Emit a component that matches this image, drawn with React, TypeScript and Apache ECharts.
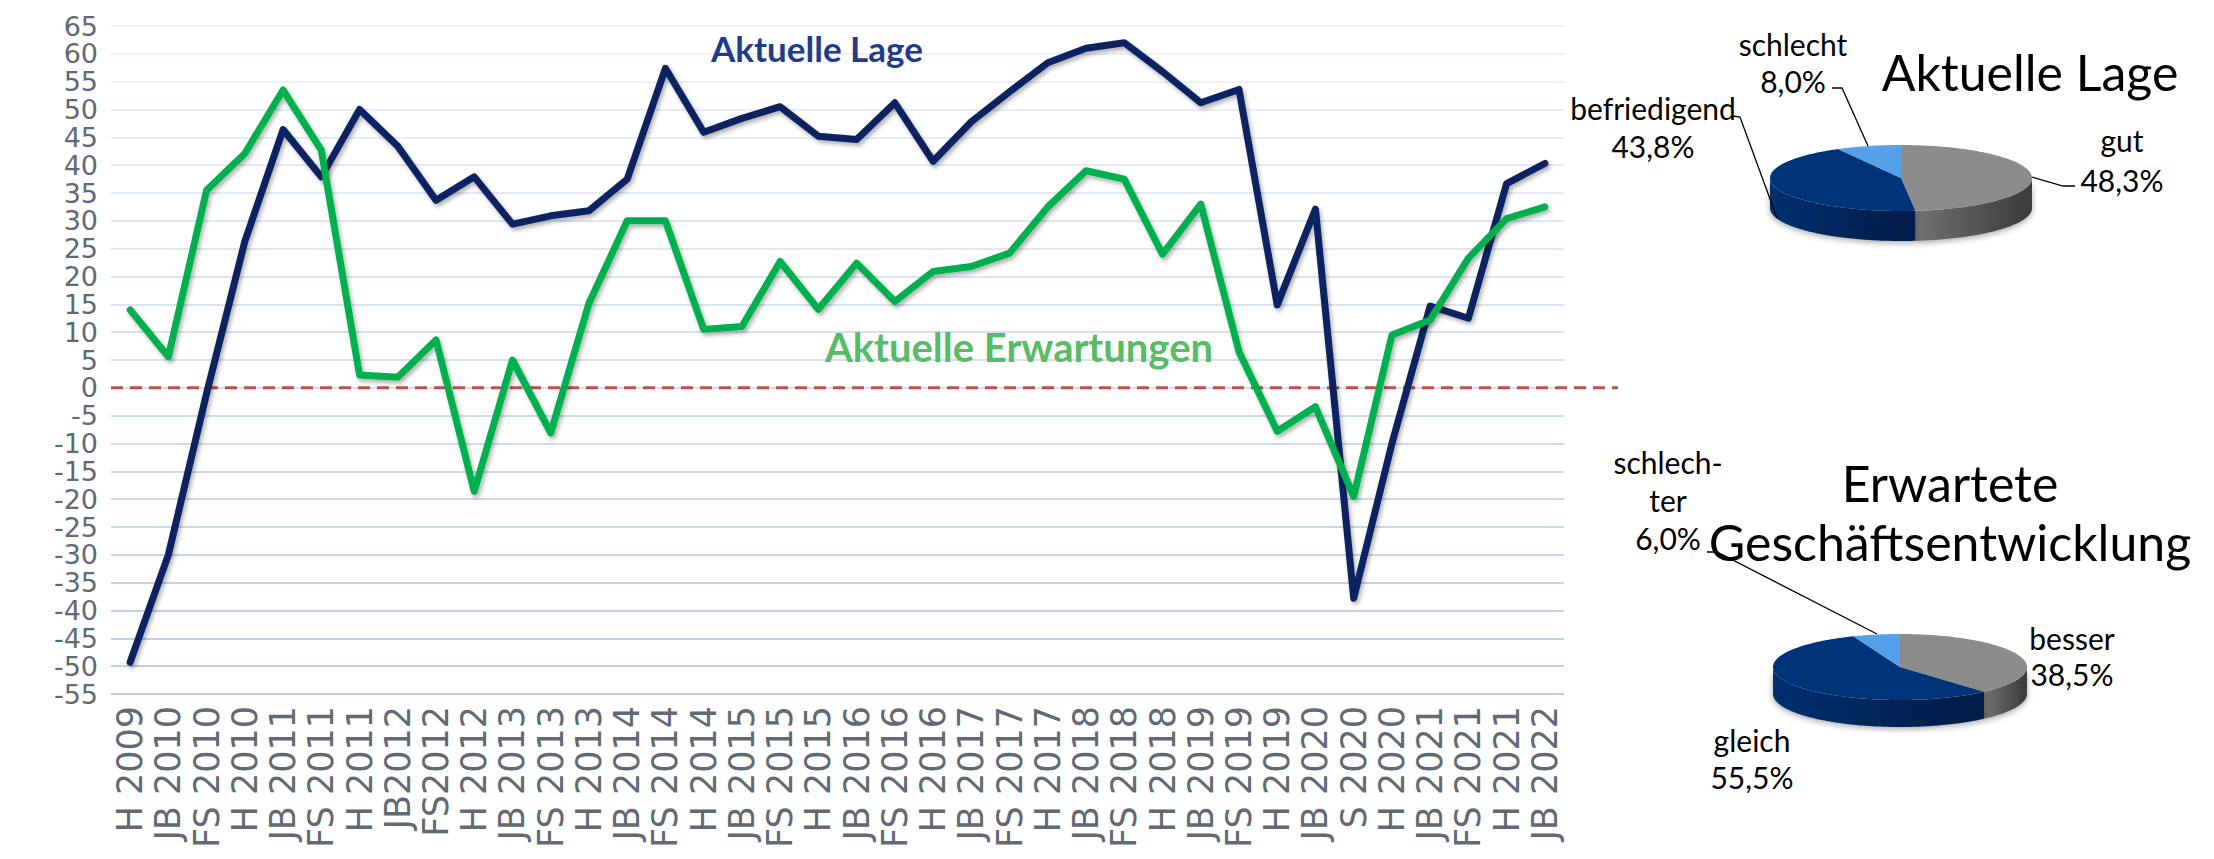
import React, { useEffect, useRef } from 'react';
import * as echarts from 'echarts';

// ---- data ----
const categories = ['H 2009', 'JB 2010', 'FS 2010', 'H 2010', 'JB 2011', 'FS 2011', 'H 2011', 'JB2012', 'FS2012', 'H 2012', 'JB 2013', 'FS 2013', 'H 2013', 'JB 2014', 'FS 2014', 'H 2014', 'JB 2015', 'FS 2015', 'H 2015', 'JB 2016', 'FS 2016', 'H 2016', 'JB 2017', 'FS 2017', 'H 2017', 'JB 2018', 'FS 2018', 'H 2018', 'JB 2019', 'FS 2019', 'H 2019', 'JB 2020', 'S 2020', 'H 2020', 'JB 2021', 'FS 2021', 'H 2021', 'JB 2022'];

const aktuelleLage = [-49.3, -30, -1, 26.3, 46.4, 37.9, 50, 43.4, 33.7, 37.9, 29.4, 30.9, 31.8, 37.5, 57.4, 45.9, 48.4, 50.5, 45.2, 44.6, 51.2, 40.7, 47.8, 53.2, 58.4, 61, 62, 56.8, 51.2, 53.6, 14.9, 32.1, -37.8, -10, 14.7, 12.5, 36.7, 40.3];

const aktuelleErwartungen = [14, 5.6, 35.5, 42.1, 53.5, 42.7, 2.3, 1.9, 8.6, -18.6, 5, -8.1, 15.2, 30, 30, 10.5, 11, 22.7, 14.1, 22.4, 15.5, 20.9, 21.8, 24.2, 32.5, 39, 37.5, 24, 33, 6.5, -7.8, -3.4, -19.5, 9.5, 12.2, 23.3, 30.4, 32.5];

const yMin = -55;
const yMax = 65;
const yStep = 5;

const lageNames = ['gut', 'befriedigend', 'schlecht'];
const lageValues = [48.3, 43.8, 8.0];

const erwNames = ['besser', 'gleich', 'schlech-\nter'];
const erwValues = [38.5, 55.5, 6.0];

const seriesNames = ['Aktuelle Lage', 'Aktuelle Erwartungen'];

// ---- styles ----
const NAVY = '#0c2260';
const GREEN = '#00b050';
const AXIS_TXT = '#5f6a74';
const AXIS_FONT = 'DejaVu Sans';
const LABEL_FONT = 'Lato';

const sliceColors = [
  { top: '#8c8c8c', sideL: '#727272', sideR: '#3a3a3a' },
  { top: '#003478', sideL: '#00306f', sideR: '#001a45' },
  { top: '#55a0e8', sideL: '#3c7fc4', sideR: '#2c64a0' },
];

const fmt = (v: number) => v.toFixed(1).replace('.', ',') + '%';

function pieRenderer(values: number[], cx: number, cy: number, rx: number, ry: number, depth: number) {
  const total = values.reduce((a, b) => a + b, 0);
  return (params: any) => {
    const i = params.dataIndex;
    let start = 0;
    for (let k = 0; k < i; k++) start += values[k];
    const a0 = (start / total) * Math.PI * 2;
    const a1 = ((start + values[i]) / total) * Math.PI * 2;
    const pt = (t: number, dy = 0) => [cx + rx * Math.sin(t), cy - ry * Math.cos(t) + dy];
    const c = sliceColors[i];
    const children: any[] = [];
    const s0 = Math.max(a0, Math.PI / 2);
    const s1 = Math.min(a1, Math.PI * 1.5);
    if (s1 > s0) {
      const pts: number[][] = [];
      const n = Math.max(2, Math.ceil((s1 - s0) / 0.02));
      for (let k = 0; k <= n; k++) pts.push(pt(s0 + ((s1 - s0) * k) / n));
      for (let k = n; k >= 0; k--) pts.push(pt(s0 + ((s1 - s0) * k) / n, depth));
      children.push({
        type: 'polygon',
        shape: { points: pts },
        style: {
          fill: new echarts.graphic.LinearGradient(0, 0, 1, 0, [
            { offset: 0, color: c.sideL },
            { offset: 1, color: c.sideR },
          ]),
          shadowBlur: 6,
          shadowColor: 'rgba(0,0,0,0.35)',
          shadowOffsetY: 2,
        },
      });
    }
    const tp: number[][] = [[cx, cy]];
    const n2 = Math.max(2, Math.ceil((a1 - a0) / 0.02));
    for (let k = 0; k <= n2; k++) tp.push(pt(a0 + ((a1 - a0) * k) / n2));
    children.push({ type: 'polygon', shape: { points: tp }, style: { fill: c.top } });
    return { type: 'group', children };
  };
}

// gridline colours from bottom (darker) to top (lighter)
const nLines = (yMax - yMin) / yStep + 1;
const gridColors: string[] = [];
for (let k = 0; k < nLines; k++) {
  const t = k / (nLines - 1);
  const r = Math.round(0xbc + (0xee - 0xbc) * t);
  const g = Math.round(0xcd + (0xf3 - 0xcd) * t);
  const b = Math.round(0xe6 + (0xfa - 0xe6) * t);
  gridColors.push(`rgb(${r},${g},${b})`);
}

const GRID = { left: 111, top: 26, width: 1453, height: 668 };

export default function App() {
  const ref = useRef<HTMLDivElement>(null);
  useEffect(() => {
    document.body.style.margin = '0';
    if (!ref.current) return;
    const chart = echarts.init(ref.current, undefined, { renderer: 'svg' });

    const txt = (text: string, x: number, y: number, size: number, lineHeight: number, extra: any = {}) => ({
      type: 'text',
      x,
      y,
      style: {
        text,
        font: `${extra.weight || 'normal'} ${size}px ${extra.family || LABEL_FONT}`,
        fill: extra.color || '#000',
        align: extra.align || 'center',
        verticalAlign: 'middle',
        lineHeight,
      },
      z: 10,
    });
    const leader = (points: number[][]) => ({
      type: 'polyline',
      shape: { points },
      style: { stroke: '#000', lineWidth: 1.3, fill: 'none' },
      z: 10,
    });

    const lineStyle = (color: string) => ({
      color,
      width: 7,
      cap: 'round',
      join: 'round',
      shadowColor: 'rgba(0,0,0,0.3)',
      shadowBlur: 4,
      shadowOffsetX: 2,
      shadowOffsetY: 3,
    });

    const option: any = {
      animation: false,
      backgroundColor: '#fff',
      grid: { ...GRID, containLabel: false },
      xAxis: {
        type: 'category',
        data: categories,
        boundaryGap: true,
        axisLine: { show: false },
        axisTick: { show: false },
        axisLabel: {
          interval: 0,
          rotate: 90,
          margin: 12,
          color: AXIS_TXT,
          fontFamily: AXIS_FONT,
          fontSize: 35,
          lineHeight: 30,
        },
        splitLine: { show: false },
      },
      yAxis: {
        type: 'value',
        min: yMin,
        max: yMax,
        interval: yStep,
        axisLine: { show: false },
        axisTick: { show: false },
        axisLabel: { show: false },
        splitLine: { show: true, lineStyle: { color: gridColors, width: 2 } },
      },
      series: [
        {
          name: seriesNames[0],
          type: 'line',
          data: aktuelleLage,
          symbol: 'none',
          z: 3,
          lineStyle: lineStyle(NAVY),
        },
        {
          name: seriesNames[1],
          type: 'line',
          data: aktuelleErwartungen,
          symbol: 'none',
          z: 4,
          lineStyle: lineStyle(GREEN),
        },
        {
          type: 'custom',
          coordinateSystem: 'none',
          data: lageValues.map((v) => [v]),
          renderItem: pieRenderer(lageValues, 1901, 178, 131, 33, 30),
          silent: true,
        },
        {
          type: 'custom',
          coordinateSystem: 'none',
          data: erwValues.map((v) => [v]),
          renderItem: pieRenderer(erwValues, 1900, 667, 127, 33, 27),
          silent: true,
        },
      ],
      graphic: [
        txt(seriesNames[0], 817, 48, 35, 40, { weight: 'bold', color: '#1f3c8c' }),
        txt(seriesNames[1], 1019, 347, 40, 44, { weight: 'bold', color: '#58bb66' }),
        txt('Aktuelle Lage', 2030, 72, 50, 56),
        txt('Erwartete\nGeschäftsentwicklung', 1950, 512, 50, 59),
        // pie 1 labels
        txt(`${lageNames[2]}\n${fmt(lageValues[2])}`, 1793, 62, 30, 37),
        txt(`${lageNames[1]}\n${fmt(lageValues[1])}`, 1653, 127, 30, 38),
        txt(`${lageNames[0]}\n${fmt(lageValues[0])}`, 2122, 160, 30, 40),
        leader([[1832, 88], [1842, 88], [1868, 146]]),
        leader([[1733, 116], [1740, 117], [1777, 218]]),
        leader([[2032, 177], [2063, 186], [2075, 186]]),
        // pie 2 labels
        txt(`${erwNames[2]}\n${fmt(erwValues[2])}`, 1668, 500, 30, 38),
        txt(`${erwNames[0]}\n${fmt(erwValues[0])}`, 2072, 656, 30, 36),
        txt(`${erwNames[1]}\n${fmt(erwValues[1])}`, 1752, 758, 30, 37),
        leader([[1707, 552], [1717, 552], [1877, 634]]),
      ],
    };
    chart.setOption(option);

    // y-axis tick labels placed through the axis scale
    const yLabels: any[] = [];
    for (let v = yMin; v <= yMax; v += yStep) {
      const py = chart.convertToPixel({ yAxisIndex: 0 }, v) as number;
      yLabels.push(txt(String(v), GRID.left - 13, py, 27, 27, { family: AXIS_FONT, color: AXIS_TXT, align: 'right' }));
    }
    const y0 = chart.convertToPixel({ yAxisIndex: 0 }, 0) as number;
    chart.setOption({
      graphic: [
        ...option.graphic,
        ...yLabels,
        {
          type: 'line',
          shape: { x1: GRID.left, y1: y0, x2: 1618, y2: y0 },
          style: { stroke: '#c0504d', lineWidth: 3, lineDash: [12, 7] },
          z: 2,
        },
      ],
    });

    return () => chart.dispose();
  }, []);
  return <div ref={ref} style={{ width: 2214, height: 859 }} />;
}
